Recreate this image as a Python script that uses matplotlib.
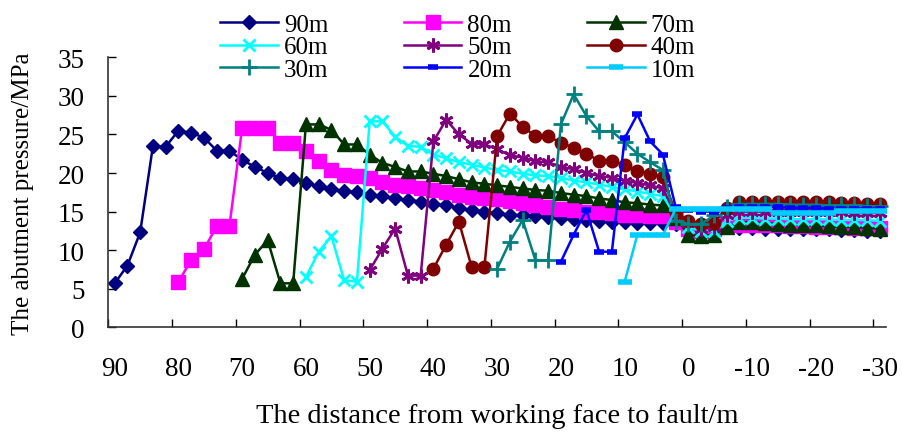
import matplotlib
matplotlib.use("Agg")
import matplotlib.pyplot as plt
import numpy as np

plt.rcParams['font.family'] = ['Liberation Serif', 'DejaVu Serif']
plt.rcParams['font.size'] = 18

# distance values (m), step 2 m
s90 = [5.7, 8.0, 12.3, 23.5, 23.4, 25.5, 25.2, 24.6, 22.9, 22.9, 21.7, 20.8, 20.0, 19.3, 19.2,
       18.7, 18.3, 17.9, 17.7, 17.5, 17.2, 17.0, 16.7, 16.5, 16.3, 16.0, 15.8, 15.5, 15.2, 15.0,
       14.8, 14.6, 14.5, 14.4, 14.3, 14.2, 14.0, 13.9, 13.8, 13.7, 13.6, 13.5, 13.5, 13.5, 13.4,
       12.5, 12.3, 12.5, 13.0, 12.9, 12.9, 12.8, 12.8, 12.8, 12.7, 12.7, 12.7, 12.6, 12.6, 12.5, 12.5]
s80 = [5.9, 8.7, 10.1, 13.1, 13.1, 25.9, 25.9, 25.9, 23.9, 23.9,
       22.8, 21.5, 20.4, 19.8, 19.6, 19.3, 18.9, 18.5, 18.3, 18.0, 17.8, 17.6, 17.2, 16.9, 16.8,
       16.6, 16.4, 16.1, 15.9, 15.6, 15.4, 15.2, 15.0, 14.9, 14.8, 14.6, 14.5, 14.4, 14.4, 13.6,
       12.8, 12.5, 12.8, 13.4, 13.3, 13.3, 13.2, 13.2, 13.1, 13.1, 13.0, 13.0, 13.0, 12.9, 12.9, 12.9]
s70 = [6.3, 9.4, 11.3, 5.7, 5.7,
       26.3, 26.3, 25.6, 23.7, 23.7, 22.4, 21.3, 20.8, 20.2, 20.2, 19.9, 19.6, 19.2, 18.8, 18.6,
       18.4, 18.2, 18.0, 17.8, 17.7, 17.4, 17.2, 17.0, 16.7, 16.5, 16.2, 16.1, 15.9, 15.8, 14.2,
       12.0, 11.8, 12.0, 13.0, 13.6, 13.6, 13.5, 13.4, 13.3, 13.3, 13.2, 13.1, 13.0, 13.0, 12.9, 12.8]
s60 = [6.5, 9.8, 11.8, 6.1, 5.9,
       26.7, 26.7, 24.7, 23.5, 23.4, 22.4, 21.9, 21.4, 21.1, 20.7, 20.4, 20.2, 19.9, 19.7, 19.6,
       19.4, 19.0, 18.8, 18.5, 18.2, 17.9, 17.6, 17.3, 17.0, 14.5,
       13.0, 12.5, 12.5, 13.8, 14.2, 14.2, 14.1, 14.1, 14.0, 14.0, 14.0, 14.0, 13.9, 13.9, 13.9, 13.8]
s50 = [7.4, 10.2, 12.8, 6.7, 6.7,
       24.1, 26.9, 25.0, 23.8, 23.7, 23.1, 22.3, 22.0, 21.5, 21.4, 20.8, 20.5, 20.0, 19.6, 19.4,
       19.0, 18.7, 18.4, 18.0, 14.6,
       13.5, 12.8, 13.0, 14.5, 15.0, 15.0, 15.0, 15.0, 15.0, 14.9, 14.9, 14.9, 14.9, 14.8, 14.8, 14.8]
s40 = [7.6, 10.7, 13.7, 7.8, 7.8,
       24.8, 27.7, 26.0, 24.8, 24.8, 23.9, 23.3, 22.5, 21.6, 21.6, 21.0, 20.3, 19.9, 19.5, 14.8,
       13.8, 13.4, 13.5, 15.5, 16.2, 16.3, 16.3, 16.3, 16.3, 16.2, 16.2, 16.2, 16.1, 16.1, 16.0, 16.0]
s30 = [7.6, 11.1, 13.9, 8.7, 8.7,
       26.3, 30.2, 27.4, 25.4, 25.4, 24.0, 22.5, 21.4, 20.4, 13.8,
       13.4, 13.4, 14.5, 15.6, 16.0, 16.0, 16.0, 16.0, 15.9, 15.9, 15.9, 15.8, 15.8, 15.8, 15.7, 15.7]
s20 = [8.5, 12.0, 15.2, 9.8, 9.8,
       24.5, 27.6, 24.1, 22.4, 15.6,
       15.2, 15.0, 15.0, 15.5, 15.6, 15.6, 15.6, 15.6, 15.5, 15.5, 15.5, 15.4, 15.4, 15.4, 15.4, 15.4]
s10 = [5.9, 12.0, 12.0, 12.0, 15.3,
       15.3, 15.3, 15.3, 15.3, 15.3, 15.3, 15.3, 14.8, 14.8, 14.8, 14.8, 14.8, 15.1, 15.1, 15.1, 15.1]

names = ['90m', '80m', '70m', '60m', '50m', '40m', '30m', '20m', '10m']
starts = [90, 80, 70, 60, 50, 40, 30, 20, 10]
series = [s90, s80, s70, s60, s50, s40, s30, s20, s10]
xtick_labels = ['90', '80', '70', '60', '50', '40', '30', '20', '10', '0', '-10', '-20', '-30']

styles = [
    dict(color='#000080', marker='D', ms=7, mec='#000080', mfc='#000080'),
    dict(color='#FF00FF', marker='s', ms=9.5, mec='#FF00FF', mfc='#FF00FF'),
    dict(color='#003300', marker='^', ms=10.5, mec='#003300', mfc='#003300'),
    dict(color='#00FFFF', marker='x', ms=9, mew=2),
    dict(color='#800080', marker=(6, 2, 0), ms=10, mew=2),
    dict(color='#800000', marker='o', ms=9, mec='#800000', mfc='#800000'),
    dict(color='#008080', marker='+', ms=11, mew=2),
    dict(color='#0000FF', marker='_', ms=7, mew=4),
    dict(color='#00CCFF', marker='_', ms=10, mew=4),
]

fig = plt.figure(figsize=(9.03, 4.35), dpi=100)
ax = fig.add_axes([108.3 / 903, 1 - 328.3 / 435, (886 - 108.3) / 903, (328.3 - 58.3) / 435])

handles = []
for name, st, ser, stl in zip(names, starts, series, styles):
    xs = np.arange(st, st - 2 * len(ser), -2)
    h, = ax.plot(xs, ser, lw=1.8, label=name, clip_on=False, **stl)
    handles.append(h)

ax.set_xlim(91, -31)
ax.set_ylim(0, 35)
ax.set_yticks(np.arange(0, 36, 5))
ax.tick_params(axis='y', direction='in', length=6, width=1, pad=17, labelsize=19.5)
major_x = [91 - 10 * i for i in range(13)]
ax.set_xticks(major_x)
ax.set_xticklabels([''] * len(major_x))
ax.tick_params(axis='x', which='major', direction='in', length=6, width=1)
ax.set_xticks([90 - 10 * i for i in range(13)], minor=True)
ax.set_xticklabels(xtick_labels, minor=True)
ax.tick_params(axis='x', which='minor', length=0, pad=21, labelsize=19.5)

for sp in ['top', 'right']:
    ax.spines[sp].set_visible(False)
for sp in ['left', 'bottom']:
    ax.spines[sp].set_linewidth(1.2)
    ax.spines[sp].set_color('#333333')

ax.set_xlabel('The distance from working face to fault/m', va='center', fontsize=20.5)
ax.xaxis.set_label_coords(0.5, (328.3 - 417) / 270)
ax.set_ylabel('The abutment pressure/MPa', va='center', fontsize=18)
ax.yaxis.set_label_coords((23 - 108.3) / 777.7, 0.5)

order = [0, 3, 6, 1, 4, 7, 2, 5, 8]
fig.legend([handles[i] for i in order], [names[i] for i in order], ncol=3,
           loc='upper left', bbox_to_anchor=(208 / 903, 1 - 2 / 435),
           frameon=False, borderpad=0, handlelength=2.3, handletextpad=0.25,
           columnspacing=3.0, labelspacing=0.0)

fig.savefig('out.png', dpi=100)
